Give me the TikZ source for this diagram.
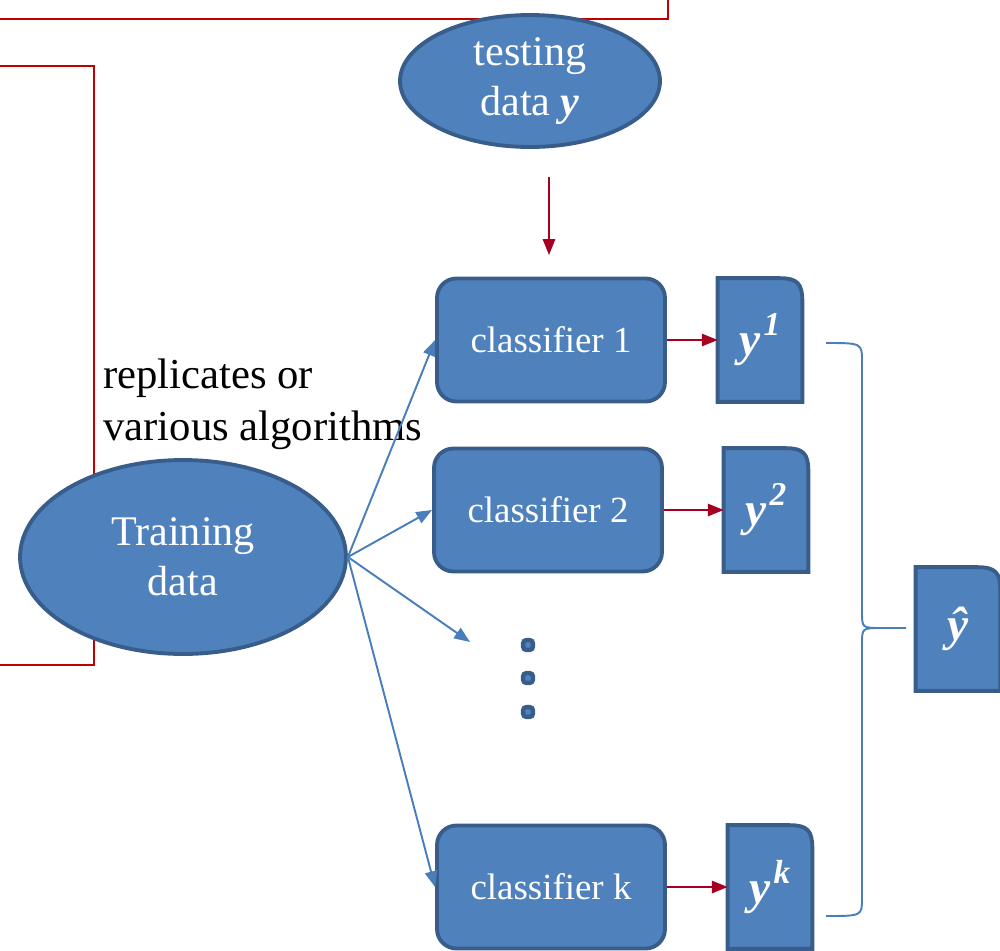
\documentclass[tikz,border=0pt]{standalone}
\usepackage{fontspec}
\setmainfont{Liberation Serif}
\usetikzlibrary{shapes.geometric,arrows.meta,backgrounds}
\definecolor{boxfill}{HTML}{4F81BD}
\definecolor{boxline}{HTML}{385D8A}
\definecolor{redline}{HTML}{C00000}
\definecolor{redarrow}{HTML}{A50021}
\definecolor{bluearrow}{HTML}{4A7EBB}
\newcommand{\ysup}[1]{y\kern1.5pt\raisebox{0.42em}{\fontsize{19}{19}\selectfont #1}}
\begin{document}
\begin{tikzpicture}[x=0.02cm,y=-0.02cm,
 blob/.style={ellipse, fill=boxfill, draw=boxline, line width=2.2pt, text=white, align=center, inner sep=0pt, font=\fontsize{24}{28.5}\selectfont},
 clf/.style={rectangle, rounded corners=11pt, fill=boxfill, draw=boxline, line width=2.2pt, text=white, minimum width=4.56cm, minimum height=2.46cm, font=\fontsize{21}{24}\selectfont},
 ybox/.style={rectangle, minimum width=1.68cm, minimum height=2.46cm, inner sep=0pt, text=white, font=\fontsize{27}{30}\selectfont\bfseries\itshape},
 yshape/.style={fill=boxfill, draw=boxline, line width=2.2pt},
 dotbox/.style={rectangle, rounded corners=2pt, fill=boxfill, draw=boxline, line width=2.5pt, minimum size=0.2cm, inner sep=0pt},
 redconn/.style={draw=redline, line width=1.1pt},
 redarr/.style={draw=redarrow, line width=1.1pt, -{Triangle[length=9pt,width=7pt]}},
 bluearr/.style={draw=bluearrow, line width=1.1pt, -{Triangle[length=9pt,width=7pt]}},
 bracestyle/.style={draw=bluearrow, line width=1.1pt},
 note/.style={align=left, inner sep=0pt, font=\fontsize{24.3}{29.6}\selectfont},
]
\useasboundingbox (0,0) rectangle (1000,950);

% red frame lines
\draw[redconn] (0,19) -- (668,19) -- (668,0);
\draw[redconn] (0,66) -- (94,66) -- (94,665) -- (0,665);

% ellipses
\node[blob, minimum width=5.2cm, minimum height=2.64cm] (test) at (530,81) {\raisebox{-2pt}{testing}\\\raisebox{-2pt}{data \textbf{\textit{y}}}};
\node[blob, minimum width=6.52cm, minimum height=3.88cm] (train) at (183,557) {Training\\data};

% classifiers
\node[clf] (c1) at (551,340) {classifier 1};
\node[clf] (c2) at (548,510) {classifier 2};
\node[clf] (ck) at (551,887) {classifier k};

% result boxes
\node[ybox] (y1) at (760,340) {\ysup{1}};
\node[ybox] (y2) at (766,510) {\ysup{2}};
\node[ybox] (yk) at (770,887) {\ysup{k}};
\node[ybox] (yh) at (958,629) {ŷ};

\begin{scope}[on background layer]
\foreach \n in {y1,y2,yk,yh}
  \draw[yshape] (\n.south west) -- (\n.north west) -- ([xshift=-13pt]\n.north east)
    .. controls ([xshift=-3pt]\n.north east) and ([yshift=-3pt]\n.north east) .. ([yshift=-13pt]\n.north east) -- (\n.south east) -- cycle;
\end{scope}

% dots
\node[dotbox] (d1) at (528,645) {};
\node[dotbox] (d2) at (528,678) {};
\node[dotbox] (d3) at (528,712) {};

% label
\node[note, anchor=west] (lbl) at (103,404) {replicates or\\various algorithms};

% connectors
\coordinate (tstart) at (549,177);
\coordinate (tend) at (549,255);
\draw[redarr] (tstart) -- (tend);

\draw[redarr] (c1.east) -- (y1.west);
\draw[redarr] (c2.east) -- (y2.west);
\draw[redarr] (ck.east) -- (yk.west);

\coordinate (dotsin) at (470,642);
\draw[bluearr] (train.east) -- (c1.west);
\draw[bluearr] (train.east) -- (c2.west);
\draw[bluearr] (train.east) -- (dotsin);
\draw[bluearr] (train.east) -- (ck.west);

% brace
\draw[bracestyle] (826,343) .. controls (862,343) .. (862,362) -- (862,612)
  .. controls (862,628) .. (882,628) -- (906,628);
\draw[bracestyle] (882,628) .. controls (862,628) .. (862,644) -- (862,898)
  .. controls (862,916) .. (826,916);
\end{tikzpicture}
\end{document}
